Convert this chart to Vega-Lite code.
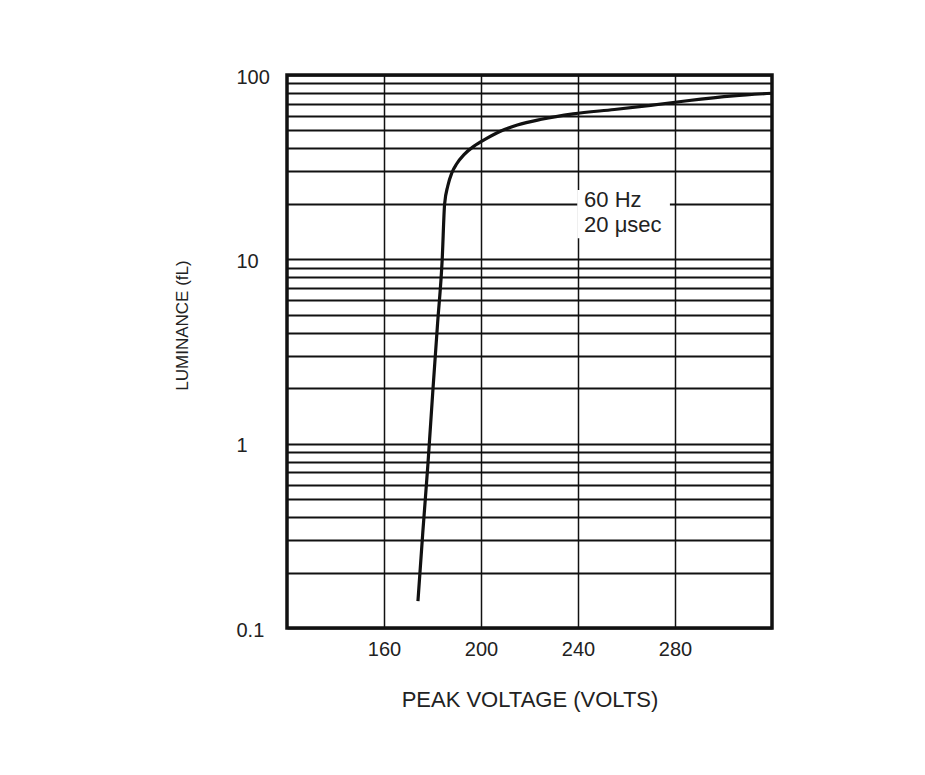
{
  "$schema": "https://vega.github.io/schema/vega-lite/v6.json",
  "autosize": "none",
  "width": 485,
  "height": 553,
  "padding": {"left": 287, "top": 75, "right": 153, "bottom": 147},
  "background": "white",
  "config": {
    "font": "Liberation Sans",
    "view": {"stroke": "#111", "strokeWidth": 3.5}
  },
  "layer": [
    {
      "data": {"values": [
        {"v": 174, "l": 0.14},
        {"v": 176, "l": 0.33},
        {"v": 178.1, "l": 0.77},
        {"v": 180.1, "l": 1.9},
        {"v": 182.1, "l": 4.5},
        {"v": 184, "l": 10},
        {"v": 185, "l": 20},
        {"v": 186.3, "l": 25},
        {"v": 188, "l": 29.5},
        {"v": 190, "l": 33},
        {"v": 193, "l": 37},
        {"v": 197, "l": 41},
        {"v": 202, "l": 45},
        {"v": 208, "l": 49.5},
        {"v": 215, "l": 53.5},
        {"v": 225, "l": 57.5},
        {"v": 238, "l": 61.5},
        {"v": 255, "l": 65},
        {"v": 270, "l": 68.5},
        {"v": 285, "l": 72.5},
        {"v": 304, "l": 77},
        {"v": 320, "l": 79.6}
      ]},
      "mark": {"type": "line", "color": "#111", "strokeWidth": 3.2, "interpolate": "monotone"},
      "encoding": {
        "x": {
          "field": "v", "type": "quantitative",
          "scale": {"domain": [120, 320], "nice": false, "zero": false},
          "axis": {
            "values": [160, 200, 240, 280],
            "grid": true, "gridColor": "#111", "gridWidth": 1.5, "gridOpacity": 1,
            "ticks": false, "tickSize": 0, "domain": false,
            "labelFontSize": 20, "labelColor": "#222", "labelPadding": 27,
            "labelBaseline": "alphabetic", "labelFlush": false, "labelOverlap": false,
            "title": "PEAK VOLTAGE (VOLTS)", "titleFontSize": 22, "titleFontWeight": "normal",
            "titleColor": "#222", "titleY": 78, "titleBaseline": "alphabetic"
          }
        },
        "y": {
          "field": "l", "type": "quantitative",
          "scale": {"type": "log", "domain": [0.1, 100], "nice": false},
          "axis": {
            "values": [0.1, 0.2, 0.3, 0.4, 0.5, 0.6, 0.7, 0.8, 0.9, 1, 2, 3, 4, 5, 6, 7, 8, 9, 10, 20, 30, 40, 50, 60, 70, 80, 90, 100],
            "labelExpr": "(datum.value == 0.1 || datum.value == 1 || datum.value == 10 || datum.value == 100) ? format(datum.value, '~g') : ''",
            "grid": true, "gridColor": "#111", "gridWidth": 2, "gridOpacity": 1,
            "ticks": false, "tickSize": 0, "domain": false,
            "labelFontSize": 20, "labelColor": "#222", "labelAlign": "left", "labelPadding": 51,
            "labelBaseline": "middle", "labelOffset": 2, "labelFlush": false, "labelOverlap": false,
            "title": "LUMINANCE (fL)", "titleFontSize": 17, "titleFontWeight": "normal",
            "titleColor": "#222", "titleX": -104.5, "titleY": 250, "titleBaseline": "middle"
          }
        }
      }
    },
    {
      "data": {"values": [{"x0": 239.7, "x1": 277.9, "y0": 13.0, "y1": 23.8}]},
      "mark": {"type": "rect", "fill": "white"},
      "encoding": {
        "x": {"field": "x0", "type": "quantitative"},
        "x2": {"field": "x1"},
        "y": {"field": "y0", "type": "quantitative"},
        "y2": {"field": "y1"}
      }
    },
    {
      "data": {"values": [
        {"tx": 242.5, "ty": 21.0, "t": "60 Hz"},
        {"tx": 242.5, "ty": 15.35, "t": "20 μsec"}
      ]},
      "mark": {"type": "text", "align": "left", "baseline": "middle", "fontSize": 22, "color": "#222"},
      "encoding": {
        "x": {"field": "tx", "type": "quantitative"},
        "y": {"field": "ty", "type": "quantitative"},
        "text": {"field": "t"}
      }
    }
  ]
}
